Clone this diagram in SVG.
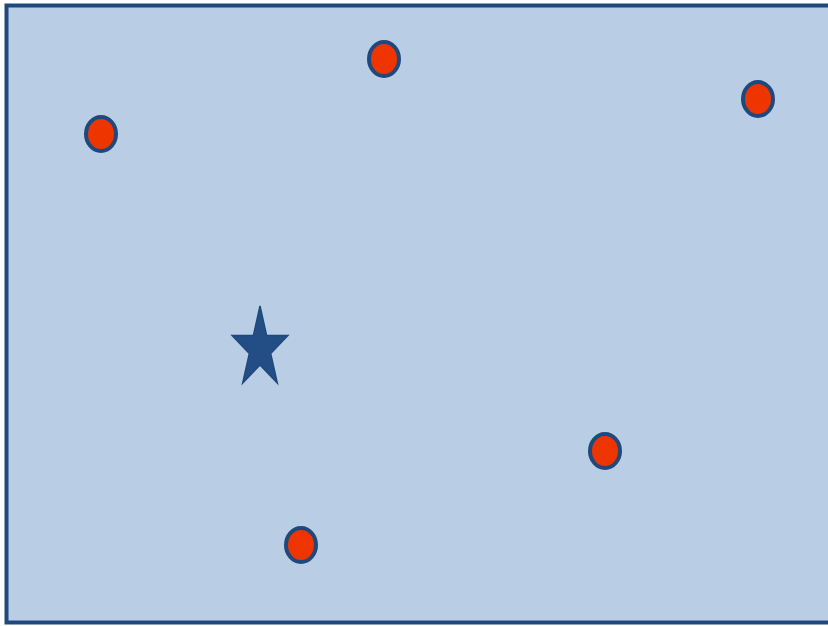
<svg xmlns="http://www.w3.org/2000/svg" width="828" height="626" viewBox="0 0 828 626">
<style>
.pt{fill:#EE3500;stroke:#1F497D;stroke-width:4}
</style>
<rect x="0" y="0" width="828" height="626" fill="#ffffff"/>
<g id="field">
<rect x="6.5" y="5.5" width="830" height="617" fill="#B9CDE5" stroke="#1F497D" stroke-width="4"/>
</g>
<g id="star">
<polygon points="260,306 266.6,335.4 287.9,335.4 270.7,353.6 277.3,383.1 260,364.9 242.7,383.1 249.3,353.6 232.1,335.4 253.4,335.4" fill="#234E85" stroke="#1F497D" stroke-width="1.5" stroke-linejoin="miter"/>
</g>
<g id="p1"><ellipse class="pt" cx="101" cy="134" rx="15" ry="17"/></g>
<g id="p2"><ellipse class="pt" cx="384" cy="59" rx="15" ry="17"/></g>
<g id="p3"><ellipse class="pt" cx="758" cy="99" rx="15" ry="17"/></g>
<g id="p4"><ellipse class="pt" cx="605" cy="451" rx="15" ry="17"/></g>
<g id="p5"><ellipse class="pt" cx="301" cy="545" rx="15" ry="17"/></g>
<g id="connectors"></g>
</svg>
